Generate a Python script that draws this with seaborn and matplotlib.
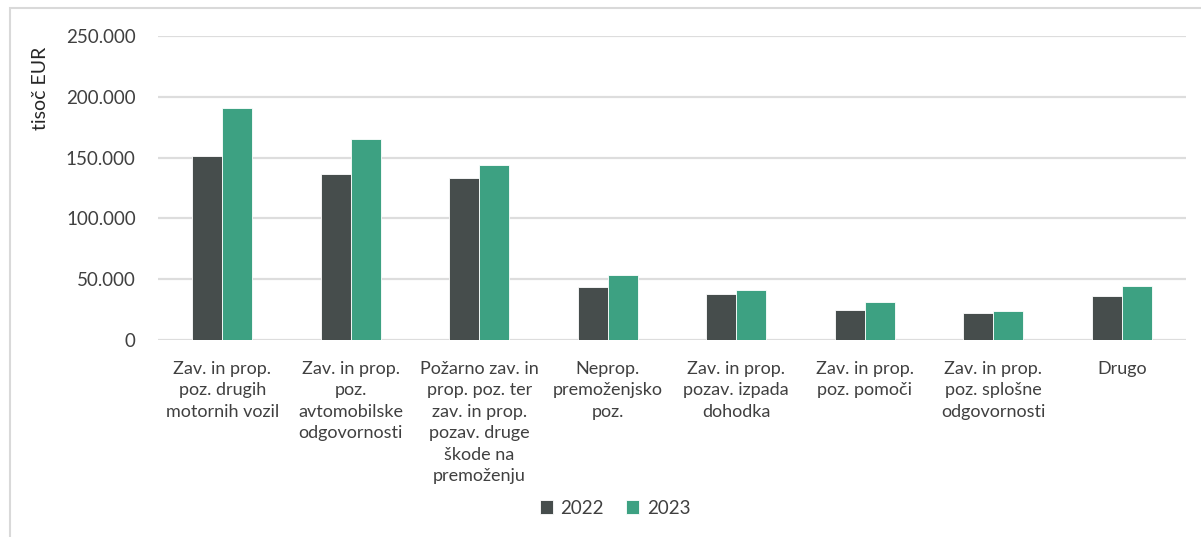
import numpy as np
import pandas as pd
import matplotlib
matplotlib.use('Agg')
import matplotlib.pyplot as plt
from matplotlib.patches import Rectangle
from matplotlib.ticker import FuncFormatter
import seaborn as sns

# categories (labels already wrapped as in the original)
categories = [
    'Zav. in prop.\npoz. drugih\nmotornih vozil',
    'Zav. in prop.\npoz.\navtomobilske\nodgovornosti',
    'Požarno zav. in\nprop. poz. ter\nzav. in prop.\npozav. druge\nškode na\npremoženju',
    'Neprop.\npremoženjsko\npoz.',
    'Zav. in prop.\npozav. izpada\ndohodka',
    'Zav. in prop.\npoz. pomoči',
    'Zav. in prop.\npoz. splošne\nodgovornosti',
    'Drugo',
]
years = ['2022', '2023']
values_2022 = [151500, 136500, 133000, 43600, 38000, 24400, 21900, 35900]
values_2023 = [190800, 165000, 143800, 53200, 40800, 31200, 23800, 44600]

colors = ['#464D4C', '#3DA182']

df = pd.DataFrame({
    'kategorija': categories * 2,
    'leto': [years[0]] * len(categories) + [years[1]] * len(categories),
    'vrednost': values_2022 + values_2023,
})

sns.set_theme(style='white')
plt.rcParams['font.family'] = ['Lato', 'DejaVu Sans']

fig = plt.figure(figsize=(12.01, 5.37), dpi=100)
ax = fig.add_axes([158 / 1201, 1 - 340 / 537, (1186 - 158) / 1201, (340 - 36) / 537])

sns.barplot(data=df, x='kategorija', y='vrednost', hue='leto',
            palette=colors, width=0.47, gap=0, ax=ax,
            edgecolor='white', linewidth=0.6, saturation=1, zorder=3)

ax.set_ylim(0, 250000)
ax.set_yticks(np.arange(0, 250001, 50000))
ax.yaxis.set_major_formatter(FuncFormatter(lambda v, p: f'{int(v):,}'.replace(',', '.')))
ax.grid(axis='y', color='#DDDDDD', linewidth=1.6, zorder=0)
ax.set_axisbelow(True)
for s in ax.spines.values():
    s.set_visible(False)

ax.tick_params(axis='y', length=0, pad=16, labelsize=13.5, labelcolor='#404040')
ax.tick_params(axis='x', length=0, pad=15, labelsize=13, labelcolor='#404040')
for lbl in ax.get_xticklabels():
    lbl.set_multialignment('center')
    lbl.set_linespacing(1.42)

ax.set_xlabel('')
ax.set_ylabel('')
fig.text(40 / 1201, 1 - 88 / 537, 'tisoč EUR', rotation=90, ha='center', va='center',
         fontsize=14, color='#262626')

handles, labels = ax.get_legend_handles_labels()
ax.legend_.remove()
fig.legend(handles, labels, loc='center', bbox_to_anchor=(615 / 1201, 1 - 508 / 537),
           ncol=2, frameon=False, fontsize=13.5, handlelength=0.7, handleheight=0.7,
           handletextpad=0.4, columnspacing=1.2, labelcolor='#404040')

# outer chart border (Excel style)
fig.patches.append(Rectangle((10 / 1201, -0.02), 1.1, 1 - 8 / 537 + 0.02,
                             transform=fig.transFigure, fill=False,
                             edgecolor='#D9D9D9', linewidth=1.5))

fig.savefig('out.png', dpi=100)
